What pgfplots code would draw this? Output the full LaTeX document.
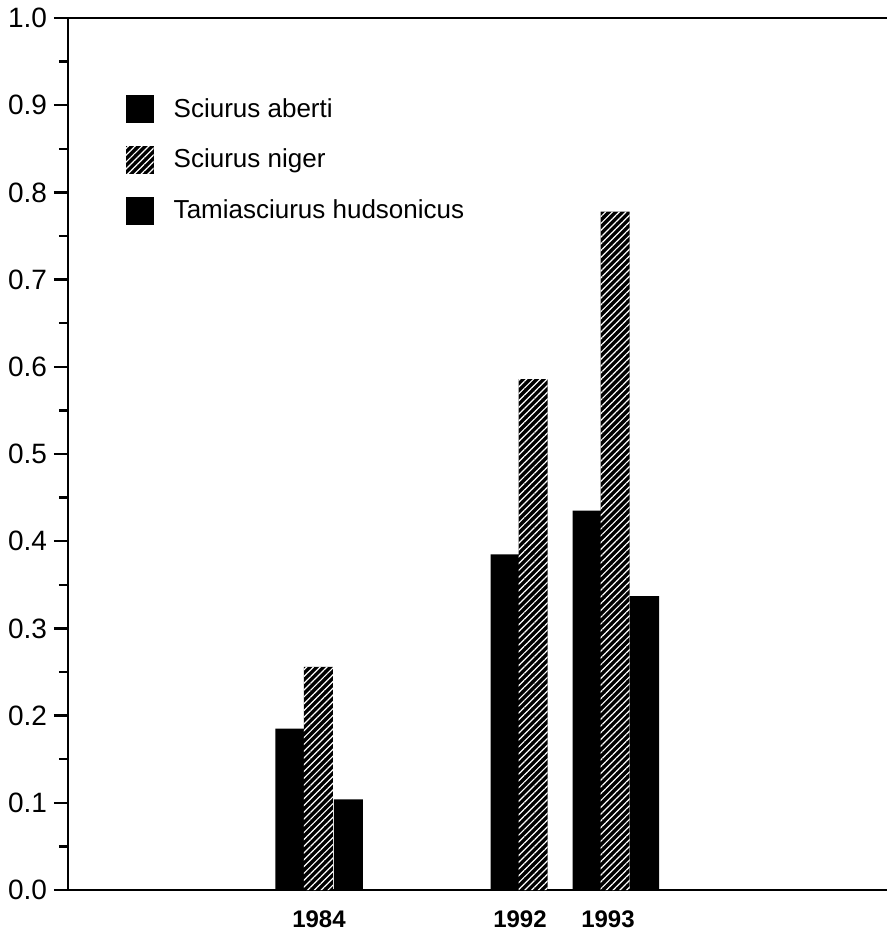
\documentclass[border=0pt]{standalone}
\usepackage{fontspec}
\setmainfont{Liberation Sans}
\usepackage{pgfplots}
\pgfplotsset{compat=1.18}
\usetikzlibrary{patterns,patterns.meta}
\begin{document}
\begin{tikzpicture}
\begin{axis}[
  name=main,
  at={(0,0)}, anchor=south west,
  scale only axis,
  width=409.5pt, height=436pt,
  xmin=68, xmax=887,
  ymin=0, ymax=1,
  axis lines*=left,
  axis line style={line width=1.3pt},
  ytick={0,0.1,0.2,0.3,0.4,0.5,0.6,0.7,0.8,0.9,1.0},
  minor y tick num=1,
  tick align=outside,
  major tick length=7pt,
  minor tick length=4.5pt,
  tick style={line width=1.2pt, black},
  yticklabel style={/pgf/number format/fixed, /pgf/number format/fixed zerofill, /pgf/number format/precision=1, font=\fontsize{14}{16}\selectfont},
  /pgf/number format/assume math mode=true,
  xtick={319,520,608},
  xticklabels={\textbf{1984},\textbf{1992},\textbf{1993}},
  xtick style={draw=none},
  xticklabel style={font=\fontsize{12}{14}\selectfont},
  ybar, bar width=29, bar shift=0pt,
  legend style={draw=none, fill=none, at={(rel axis cs:0.07,0.913)}, anchor=north west,
    font=\fontsize{13}{15}\selectfont, row sep=10.5pt, inner sep=0pt},
  legend cell align=left,
  legend image code/.code={\path[#1, draw=none] (0pt,-7pt) rectangle (14pt,7pt);},
]
\addplot[fill=black, draw=none] coordinates {(290,0.185) (505,0.385) (587,0.435)};
\addlegendentry{\hspace{8pt}Sciurus aberti}
\addplot[fill=black, draw=none, postaction={pattern={Lines[angle=45, distance=2.4pt, line width=0.6pt]}, pattern color=white}] coordinates {(318.5,0.256) (533,0.586) (615,0.778)};
\addlegendentry{\hspace{8pt}Sciurus niger}
\addplot[fill=black, draw=none] coordinates {(348.5,0.104) (644.5,0.337)};
\addlegendentry{\hspace{8pt}Tamiasciurus hudsonicus}
\end{axis}
\draw[line width=1pt] (main.north west) -- (main.north east);
\pgfresetboundingbox
\useasboundingbox (main.south west) ++(-34pt,-21.5pt) rectangle ([yshift=9pt]main.north east);
\end{tikzpicture}
\end{document}
